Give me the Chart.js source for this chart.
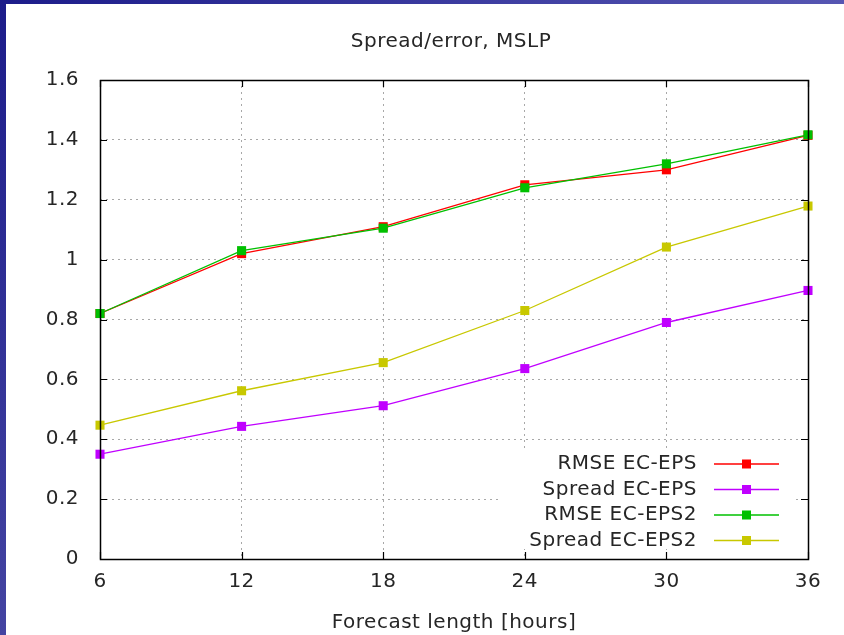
<!DOCTYPE html>
<html>
<head>
<meta charset="utf-8">
<script src="https://cdn.jsdelivr.net/npm/chart.js@4/dist/chart.umd.min.js"></script>
<style>
  html, body { margin: 0; padding: 0; background: #ffffff; }
  #wrap { width: 844px; height: 635px; position: relative; }
</style>
</head>
<body>
<div id="wrap"><canvas id="c" width="844" height="635"></canvas></div>
<script>
// Forecast lead times (hours)
const hours = [6, 12, 18, 24, 30, 36];
// Series values
const rmseEps = [0.82, 1.02, 1.11, 1.25, 1.30, 1.415];
const spreadEps = [0.35, 0.443, 0.512, 0.636, 0.79, 0.897];
const rmseEps2 = [0.82, 1.03, 1.105, 1.24, 1.32, 1.417];
const spreadEps2 = [0.447, 0.562, 0.656, 0.83, 1.042, 1.179];
const seriesNames = ['RMSE EC-EPS', 'Spread EC-EPS', 'RMSE EC-EPS2', 'Spread EC-EPS2'];
const seriesColors = ['#ff0000', '#c000ff', '#00c000', '#c8c800'];
// Y tick labels
const yTicks = [0, 0.2, 0.4, 0.6, 0.8, 1, 1.2, 1.4, 1.6];
const chartTitle = 'Spread/error, MSLP';

const FONT = '"DejaVu Sans", Verdana, sans-serif';
const FSIZE = 20;
const TEXT = '#262626';

const allSeries = [rmseEps, spreadEps, rmseEps2, spreadEps2];
const drawOrder = [4, 3, 1, 2];

const datasets = allSeries.map((vals, i) => ({
  label: seriesNames[i],
  data: vals.map((v, k) => ({ x: hours[k], y: v })),
  borderColor: seriesColors[i],
  backgroundColor: seriesColors[i],
  borderWidth: 1.3,
  pointStyle: 'rect',
  pointRadius: 6.4,
  pointHoverRadius: 6.4,
  pointBorderWidth: 0,
  tension: 0,
  order: drawOrder[i],
  clip: false
}));

// White page with blue frame bands; slightly open letter spacing for all text
const framePlugin = {
  id: 'frame',
  beforeInit(chart) { chart.ctx.letterSpacing = '0.5px'; },
  beforeDraw(chart) {
    const ctx = chart.ctx;
    ctx.letterSpacing = '0.5px';
    const w = chart.width, h = chart.height;
    ctx.save();
    ctx.fillStyle = '#ffffff';
    ctx.fillRect(0, 0, w, h);
    const gTop = ctx.createLinearGradient(0, 0, w, 0);
    gTop.addColorStop(0, '#1c1c8a');
    gTop.addColorStop(1, '#5656b2');
    ctx.fillStyle = gTop;
    ctx.fillRect(0, 0, w, 4);
    const gLeft = ctx.createLinearGradient(0, 0, 0, h);
    gLeft.addColorStop(0, '#1c1c8a');
    gLeft.addColorStop(1, '#4444a2');
    ctx.fillStyle = gLeft;
    ctx.fillRect(0, 0, 6, h);
    ctx.restore();
  },
  afterDraw(chart) {
    const ctx = chart.ctx;
    ctx.save();
    ctx.font = FSIZE + 'px ' + FONT;
    ctx.fillStyle = TEXT;
    ctx.textAlign = 'center';
    ctx.textBaseline = 'middle';
    ctx.fillText(chartTitle, 451, 42);
    ctx.restore();
  }
};

// Key box inside the plot (lower right), masking the grid behind it
const keyBox = { x0: 498, x1: 793, y0: 451, y1: 549 };
const keyPlugin = {
  id: 'key',
  beforeDatasetsDraw(chart) {
    const ctx = chart.ctx;
    ctx.save();
    ctx.fillStyle = '#ffffff';
    ctx.fillRect(keyBox.x0, keyBox.y0, keyBox.x1 - keyBox.x0, keyBox.y1 - keyBox.y0);
    ctx.restore();
  },
  afterDraw(chart) {
    const ctx = chart.ctx;
    ctx.save();
    ctx.font = FSIZE + 'px ' + FONT;
    ctx.textAlign = 'right';
    ctx.textBaseline = 'middle';
    const rowY = [464, 489.5, 515, 540.5];
    seriesNames.forEach((name, i) => {
      const y = rowY[i];
      ctx.fillStyle = TEXT;
      ctx.fillText(name, 697, y);
      ctx.strokeStyle = seriesColors[i];
      ctx.lineWidth = 1.3;
      ctx.beginPath();
      ctx.moveTo(714, y);
      ctx.lineTo(779, y);
      ctx.stroke();
      ctx.fillStyle = seriesColors[i];
      ctx.fillRect(746.5 - 4.5, y - 4.5, 9, 9);
    });
    ctx.restore();
  }
};

// Plot border and inward tick marks on all four sides
const borderPlugin = {
  id: 'border',
  afterDraw(chart) {
    const ctx = chart.ctx;
    const a = chart.chartArea;
    const xs = chart.scales.x, ys = chart.scales.y;
    const L = 7;
    ctx.save();
    ctx.strokeStyle = '#000000';
    ctx.lineWidth = 1.2;
    ctx.beginPath();
    hours.forEach(hv => {
      const px = Math.round(xs.getPixelForValue(hv)) + 0.5;
      ctx.moveTo(px, a.bottom); ctx.lineTo(px, a.bottom - L);
      ctx.moveTo(px, a.top); ctx.lineTo(px, a.top + L);
    });
    yTicks.forEach(v => {
      const py = Math.round(ys.getPixelForValue(v)) + 0.5;
      ctx.moveTo(a.left, py); ctx.lineTo(a.left + L, py);
      ctx.moveTo(a.right, py); ctx.lineTo(a.right - L, py);
    });
    ctx.stroke();
    ctx.lineWidth = 1.5;
    ctx.strokeRect(Math.round(a.left) + 0.5, Math.round(a.top) + 0.5,
      Math.round(a.right - a.left), Math.round(a.bottom - a.top));
    ctx.restore();
  }
};

const gridColor = (ctx) => {
  const n = ctx.scale.ticks.length;
  return (ctx.index === 0 || ctx.index === n - 1) ? 'rgba(0,0,0,0)' : '#a8a8a8';
};

new Chart(document.getElementById('c'), {
  type: 'line',
  data: { datasets },
  options: {
    responsive: false,
    animation: false,
    events: [],
    layout: { padding: { left: 0, right: 36, top: 80, bottom: 0 } },
    scales: {
      x: {
        type: 'linear',
        min: hours[0],
        max: hours[hours.length - 1],
        afterBuildTicks(scale) { scale.ticks = hours.map(v => ({ value: v })); },
        afterFit(scale) { scale.height = 76; },
        ticks: {
          color: TEXT,
          font: { family: FONT, size: FSIZE },
          padding: 11,
          maxRotation: 0,
          callback: (v) => String(v)
        },
        grid: { color: gridColor, lineWidth: 1, drawTicks: false },
        border: { display: false, dash: [2, 4] },
        title: {
          display: true,
          text: 'Forecast length [hours]',
          color: TEXT,
          font: { family: FONT, size: FSIZE },
          padding: { top: 6, bottom: 0 }
        }
      },
      y: {
        type: 'linear',
        min: 0,
        max: 1.6,
        afterBuildTicks(scale) { scale.ticks = yTicks.map(v => ({ value: v })); },
        afterFit(scale) { scale.width = 100; },
        ticks: {
          color: TEXT,
          font: { family: FONT, size: FSIZE },
          padding: 21,
          callback: (v) => String(parseFloat(Number(v).toFixed(1)))
        },
        grid: { color: gridColor, lineWidth: 1, drawTicks: false },
        border: { display: false, dash: [2, 4] }
      }
    },
    plugins: {
      legend: { display: false },
      tooltip: { enabled: false },
      title: { display: false }
    }
  },
  plugins: [framePlugin, keyPlugin, borderPlugin]
});
</script>
</body>
</html>
